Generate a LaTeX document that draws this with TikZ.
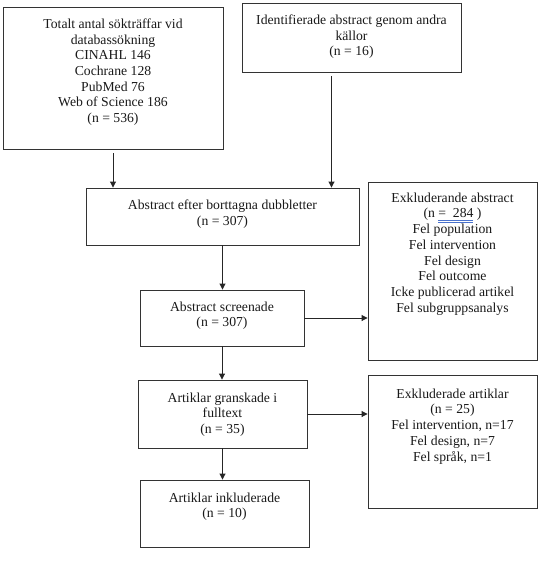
\documentclass[tikz,border=0pt]{standalone}
\usepackage{fontspec}
\setmainfont{Liberation Serif}
\usetikzlibrary{arrows.meta,positioning}

\definecolor{spellblue}{RGB}{75,115,205}
% Word's double underline under the count
\newcommand\spellmark[1]{\setbox0\hbox{#1}%
  \rlap{\color{spellblue}\raisebox{-2.2pt}{\rule{\wd0}{0.5pt}}}%
  \rlap{\color{spellblue}\raisebox{-4.2pt}{\rule{\wd0}{0.5pt}}}\box0}

\begin{document}
\begin{tikzpicture}[x=1pt,y=-1pt,
  >={Triangle[length=6pt,width=6pt]},
  box/.style={draw=black!80, line width=0.9pt, inner sep=0pt},
  txt/.style={inner sep=0pt, align=center, text=black!90,
    font=\fontsize{13.7}{15.7}\selectfont},
  flow/.style={->, draw=black!85, line width=0.9pt}]

  \useasboundingbox (0,0) rectangle (544,571);

  % boxes
  \node[box, minimum width=220, minimum height=142] (tot) at (113,78) {};
  \node[box, minimum width=219, minimum height=69] (ident) at (351.5,37.5) {};
  \node[box, minimum width=273, minimum height=57] (dub) at (222.5,216.5) {};
  \node[box, minimum width=164, minimum height=56] (scr) at (222,318) {};
  \node[box, minimum width=169, minimum height=178] (exabs) at (452.5,271) {};
  \node[box, minimum width=169, minimum height=68] (gran) at (222.5,414) {};
  \node[box, minimum width=169, minimum height=133] (exart) at (452.5,441.5) {};
  \node[box, minimum width=169, minimum height=67] (inkl) at (224.5,513.5) {};

  % texts
  \node[txt, below=12pt of tot.north] (tot-txt)
    {Totalt antal sökträffar vid\\databassökning\\CINAHL 146\\Cochrane 128\\PubMed 76\\Web of Science 186\\(n = 536)};
  \node[txt, below=12pt of ident.north] (ident-txt)
    {Identifierade abstract genom andra\\källor\\(n = 16)};
  \node[txt, below=12pt of dub.north] (dub-txt)
    {Abstract efter borttagna dubbletter\\(n = 307)};
  \node[txt, below=12pt of scr.north] (scr-txt)
    {Abstract screenade\\(n = 307)};
  \node[txt, below=11pt of exabs.north] (exabs-txt)
    {Exkluderande abstract\\(n \spellmark{=\ \ 284}\ )\\Fel population\\Fel intervention\\Fel design\\Fel outcome\\Icke publicerad artikel\\Fel subgruppsanalys};
  \node[txt, below=13pt of gran.north] (gran-txt)
    {Artiklar granskade i\\fulltext\\(n = 35)};
  \node[txt, below=14pt of exart.north] (exart-txt)
    {Exkluderade artiklar\\(n = 25)\\Fel intervention, n=17\\Fel design, n=7\\Fel språk, n=1};
  \node[txt, below=13pt of inkl.north] (inkl-txt)
    {Artiklar inkluderade\\(n = 10)};

  % arrows
  \draw[flow, shorten <=4pt] (tot.south) -- (tot.south |- dub.north);
  \draw[flow, shorten <=4pt] ([xshift=-20pt]ident.south) -- ([xshift=-20pt]ident.south |- dub.north);
  \draw[flow] (dub.south) -- (dub.south |- scr.north);
  \draw[flow] (scr.east) -- (scr.east -| exabs.west);
  \draw[flow] (scr.south) -- (scr.south |- gran.north);
  \draw[flow] (gran.east) -- (gran.east -| exart.west);
  \draw[flow] (gran.south) -- (gran.south |- inkl.north);

\end{tikzpicture}
\end{document}
